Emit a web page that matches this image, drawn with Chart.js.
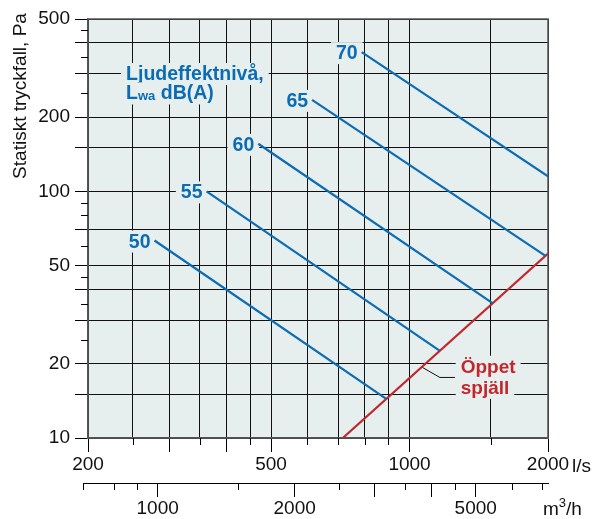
<!DOCTYPE html>
<html>
<head>
<meta charset="utf-8">
<script src="https://cdn.jsdelivr.net/npm/chart.js@4.4.0/dist/chart.umd.min.js"></script>
<style>
    html, body { margin: 0; padding: 0; background: #fff; }
    #wrap { width: 593px; height: 519px; }
</style>
</head>
<body>
<div id="wrap"><canvas id="myChart"></canvas></div>
<script>
// sound power level lines, start and end (l/s, Pa)
const levelNames = ['50', '55', '60', '65', '70'];
const levelFlow = [[279, 890], [362, 1162], [469, 1515], [614, 1975], [787, 2000]];
const levelPressure = [[63.2, 14.4], [100, 22.6], [156, 35.2], [235, 54.8], [367, 115]];

// open damper line
const damperFlow = [716, 2000];
const damperPressure = [10, 56];

// little pointer from the damper line to its label
const leaderFlow = [1063, 1164, 1255];
const leaderPressure = [19.4, 17.6, 17.6];

// axis ticks
const flowGrid = [200, 250, 300, 350, 400, 450, 500, 600, 700, 800, 900, 1000, 1500, 2000];
const flowMajor = [200, 300, 400, 500, 1000, 2000];
const flowLabels = [200, 500, 1000, 2000];
const paGrid = [10, 15, 20, 30, 40, 50, 70, 100, 150, 200, 300, 400, 500];
const paMinor = [25, 35, 45, 60, 80, 90, 250, 350, 450];
const paLabels = [10, 20, 50, 100, 200, 500];
const m3hMajor = [1000, 2000, 3000, 4000, 5000];
const m3hMinor = [800, 900, 1500, 2500, 3500, 4500, 6000, 7000];
const m3hLabels = [1000, 2000, 5000];

// text anchors in data units
const levelTitle = ['Ljudeffektnivå,', 'dB(A)'];
const levelTitleAt = { x: 242, y1: 283, y2: 236 };
const damperTitle = ['Öppet', 'spjäll'];
const damperTitleAt = { x: 1292, y1: 18.4, y2: 15.1 };

const blue = '#0b6cb3';
const red = '#c1272d';
const plotBg = '#e6efee';
const fam = '"Liberation Sans", Arial, Helvetica, sans-serif';

function boxText(ctx, text, x, y, align) {
    const w = ctx.measureText(text).width;
    const left = align === 'right' ? x - w : x;
    ctx.fillStyle = plotBg;
    ctx.fillRect(left - 5, y - 17, w + 10, 22);
    ctx.fillStyle = ctx._txtColor;
    ctx.textAlign = align;
    ctx.textBaseline = 'alphabetic';
    ctx.fillText(text, x, y);
}

const extras = {
    id: 'extras',
    beforeDraw(chart) {
        const a = chart.chartArea, ctx = chart.ctx;
        ctx.save();
        ctx.fillStyle = plotBg;
        ctx.fillRect(a.left, a.top, a.right - a.left, a.bottom - a.top);
        ctx.restore();
    },
    beforeDatasetsDraw(chart) {
        const ctx = chart.ctx, a = chart.chartArea;
        const sx = chart.scales.x, sy = chart.scales.y;
        ctx.save();
        ctx.strokeStyle = '#555';
        ctx.lineWidth = 1.5;
        ctx.strokeRect(a.left, a.top, a.right - a.left, a.bottom - a.top);

        // level numbers at the start of each line
        ctx.font = 'bold 19.5px ' + fam;
        ctx._txtColor = blue;
        levelNames.forEach((n, i) => {
            const px = sx.getPixelForValue(levelFlow[i][0]);
            const py = sy.getPixelForValue(levelPressure[i][0]);
            boxText(ctx, n, px - 4, py + 7, 'right');
        });

        // "Ljudeffektnivå, Lwa dB(A)"
        const lx = sx.getPixelForValue(levelTitleAt.x);
        const ly1 = sy.getPixelForValue(levelTitleAt.y1);
        const ly2 = sy.getPixelForValue(levelTitleAt.y2);
        ctx.font = 'bold 19.5px ' + fam;
        boxText(ctx, levelTitle[0], lx, ly1, 'left');
        const wL = ctx.measureText('L').width;
        const wRest = ctx.measureText(' ' + levelTitle[1]).width;
        ctx.font = 'bold 13px ' + fam;
        const wSub = ctx.measureText('wa').width;
        ctx.fillStyle = plotBg;
        ctx.fillRect(lx - 5, ly2 - 17, wL + wSub + wRest + 10, 22);
        ctx.fillStyle = blue;
        ctx.textAlign = 'left';
        ctx.textBaseline = 'alphabetic';
        ctx.font = 'bold 19.5px ' + fam;
        ctx.fillText('L', lx, ly2);
        ctx.fillText(' ' + levelTitle[1], lx + wL + wSub, ly2);
        ctx.font = 'bold 13px ' + fam;
        ctx.fillText('wa', lx + wL, ly2 + 1);

        // "Öppet spjäll"
        ctx.font = 'bold 19px ' + fam;
        ctx._txtColor = red;
        const dx = sx.getPixelForValue(damperTitleAt.x);
        boxText(ctx, damperTitle[0], dx, sy.getPixelForValue(damperTitleAt.y1), 'left');
        boxText(ctx, damperTitle[1], dx, sy.getPixelForValue(damperTitleAt.y2), 'left');
        ctx.restore();
    },
    afterDraw(chart) {
        const ctx = chart.ctx, a = chart.chartArea;
        const sx = chart.scales.x, sy = chart.scales.y, s2 = chart.scales.x2;
        ctx.save();
        ctx.strokeStyle = '#000';
        ctx.lineWidth = 1;
        ctx.beginPath();
        flowGrid.filter(v => !flowMajor.includes(v)).forEach(v => {
            const px = Math.round(sx.getPixelForValue(v)) + 0.5;
            ctx.moveTo(px, a.bottom);
            ctx.lineTo(px, a.bottom + 7);
        });
        paMinor.forEach(v => {
            const py = Math.round(sy.getPixelForValue(v)) + 0.5;
            ctx.moveTo(a.left - 7, py);
            ctx.lineTo(a.left, py);
        });
        m3hMinor.forEach(v => {
            const px = Math.round(s2.getPixelForValue(v)) + 0.5;
            ctx.moveTo(px, s2.top);
            ctx.lineTo(px, s2.top + 7);
        });
        // m3/h axis line starts a little left of the plot, with an end tick
        ctx.moveTo(a.left - 5, s2.top + 0.5);
        ctx.lineTo(a.left, s2.top + 0.5);
        ctx.moveTo(a.left - 4.5, s2.top);
        ctx.lineTo(a.left - 4.5, s2.top + 7);
        ctx.stroke();

        // axis titles and units
        ctx.fillStyle = '#111';
        ctx.font = '19px ' + fam;
        ctx.textAlign = 'left';
        ctx.textBaseline = 'alphabetic';
        ctx.fillText('l/s', a.right + 24, a.bottom + 34);
        ctx.fillText('m', a.right - 5, s2.top + 32);
        const wm = ctx.measureText('m').width;
        ctx.font = '13px ' + fam;
        ctx.fillText('3', a.right - 5 + wm, s2.top + 24);
        const w3 = ctx.measureText('3').width;
        ctx.font = '19px ' + fam;
        ctx.fillText('/h', a.right - 5 + wm + w3, s2.top + 32);

        ctx.translate(21, 96);
        ctx.rotate(-Math.PI / 2);
        ctx.textAlign = 'center';
        ctx.textBaseline = 'middle';
        ctx.fillText('Statiskt tryckfall, Pa', 0, 0);
        ctx.restore();
    }
};

const datasets = levelNames.map((n, i) => ({
    label: 'Lwa ' + n,
    data: levelFlow[i].map((f, j) => ({ x: f, y: levelPressure[i][j] })),
    borderColor: blue,
    borderWidth: 2.2
}));
datasets.push({
    label: 'Öppet spjäll',
    data: damperFlow.map((f, j) => ({ x: f, y: damperPressure[j] })),
    borderColor: red,
    borderWidth: 2.2
});
datasets.push({
    label: 'pointer',
    data: leaderFlow.map((f, j) => ({ x: f, y: leaderPressure[j] })),
    borderColor: '#111',
    borderWidth: 1
});

const tickFont = { family: fam, size: 19 };

new Chart(document.getElementById('myChart'), {
    type: 'scatter',
    data: { datasets: datasets },
    options: {
        responsive: true,
        maintainAspectRatio: false,
        animation: false,
        showLine: true,
        elements: { point: { radius: 0 }, line: { tension: 0 } },
        layout: { padding: { left: 0, right: 45, top: 19, bottom: 0 } },
        plugins: { legend: { display: false }, tooltip: { enabled: false } },
        scales: {
            x: {
                type: 'logarithmic',
                position: 'bottom',
                min: 200,
                max: 2000,
                afterBuildTicks: s => { s.ticks = flowGrid.map(v => ({ value: v })); },
                afterFit: s => { s.height = 45; },
                grid: {
                    color: '#111',
                    lineWidth: 1,
                    tickLength: 14,
                    tickColor: c => flowMajor.includes(c.tick.value) ? '#000' : 'rgba(0,0,0,0)'
                },
                border: { color: '#555', width: 1.5 },
                ticks: {
                    autoSkip: false,
                    maxRotation: 0,
                    padding: 1,
                    color: '#111',
                    font: tickFont,
                    callback: v => flowLabels.includes(v) ? String(v) : ''
                }
            },
            x2: {
                type: 'logarithmic',
                position: 'bottom',
                min: 703,
                max: 7207,
                afterBuildTicks: s => { s.ticks = m3hMajor.map(v => ({ value: v })); },
                afterFit: s => { s.height = 36; },
                grid: { drawOnChartArea: false, tickLength: 14, tickColor: '#000' },
                border: { color: '#000', width: 1 },
                ticks: {
                    autoSkip: false,
                    maxRotation: 0,
                    padding: 0,
                    color: '#111',
                    font: tickFont,
                    callback: v => m3hLabels.includes(v) ? String(v) : ''
                }
            },
            y: {
                type: 'logarithmic',
                position: 'left',
                min: 10,
                max: 500,
                afterBuildTicks: s => { s.ticks = paGrid.map(v => ({ value: v })); },
                afterFit: s => { s.width = 88; },
                grid: { color: '#111', lineWidth: 1, tickLength: 13, tickColor: '#000' },
                border: { color: '#555', width: 1.5 },
                ticks: {
                    autoSkip: false,
                    padding: 5,
                    color: '#111',
                    font: tickFont,
                    callback: v => paLabels.includes(v) ? String(v) : ''
                }
            }
        }
    },
    plugins: [extras]
});
</script>
</body>
</html>
